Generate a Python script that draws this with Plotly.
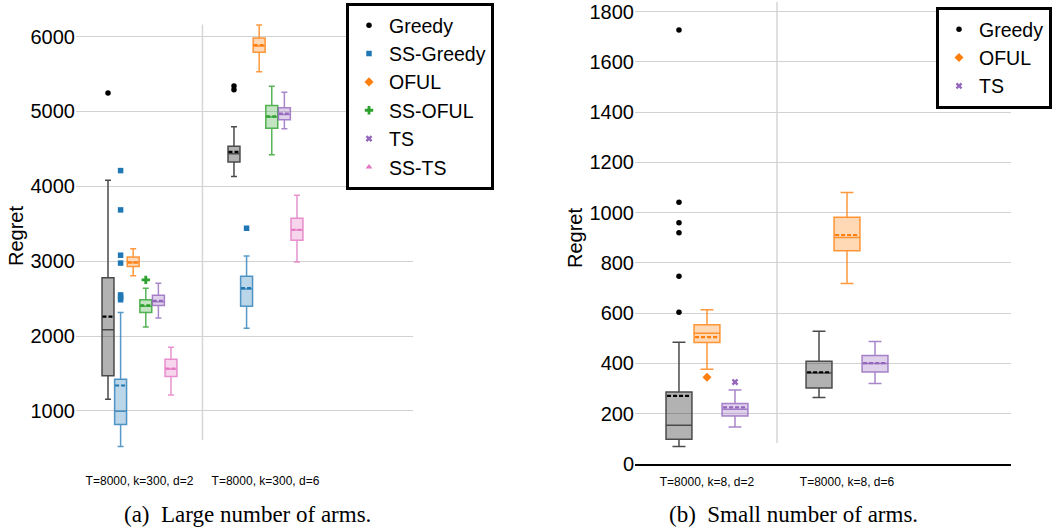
import plotly.graph_objects as go

W, H = 1053, 529

# ---------------- data: (a) large number of arms ----------------
groups_a = ["T=8000, k=300, d=2", "T=8000, k=300, d=6"]
series_a = ["Greedy", "SS-Greedy", "OFUL", "SS-OFUL", "TS", "SS-TS"]

lower_a = {
    "Greedy": [1155, 4130], "SS-Greedy": [525, 2105], "OFUL": [2805, 5530],
    "SS-OFUL": [2120, 4420], "TS": [2240, 4770], "SS-TS": [1215, 2990]}
q1_a = {
    "Greedy": [1470, 4325], "SS-Greedy": [820, 2400], "OFUL": [2930, 5790],
    "SS-OFUL": [2315, 4775], "TS": [2410, 4890], "SS-TS": [1460, 3280]}
median_a = {
    "Greedy": [2085, 4435], "SS-Greedy": [995, 2630], "OFUL": [2980, 5875],
    "SS-OFUL": [2400, 4925], "TS": [2460, 4960], "SS-TS": [1560, 3415]}
mean_a = {
    "Greedy": [2260, 4460], "SS-Greedy": [1340, 2640], "OFUL": [2985, 5885],
    "SS-OFUL": [2410, 4935], "TS": [2470, 4970], "SS-TS": [1565, 3420]}
q3_a = {
    "Greedy": [2780, 4535], "SS-Greedy": [1425, 2800], "OFUL": [3055, 5980],
    "SS-OFUL": [2485, 5080], "TS": [2545, 5050], "SS-TS": [1690, 3575]}
upper_a = {
    "Greedy": [4080, 4795], "SS-Greedy": [2315, 3070], "OFUL": [3165, 6155],
    "SS-OFUL": [2640, 5335], "TS": [2705, 5255], "SS-TS": [1850, 3880]}
outliers_a = {
    "Greedy": [[5245], [5290, 5340]],
    "SS-Greedy": [[4210, 3685, 3080, 2975, 2550, 2515, 2485], [3440]],
    "OFUL": [[], []],
    "SS-OFUL": [[2750], []],
    "TS": [[], []],
    "SS-TS": [[], []]}

# ---------------- data: (b) small number of arms ----------------
groups_b = ["T=8000, k=8, d=2", "T=8000, k=8, d=6"]
series_b = ["Greedy", "OFUL", "TS"]

lower_b = {"Greedy": [70, 265], "OFUL": [377, 718], "TS": [147, 320]}
q1_b = {"Greedy": [98, 302], "OFUL": [483, 848], "TS": [191, 366]}
median_b = {"Greedy": [154, 362], "OFUL": [520, 901], "TS": [218, 400]}
mean_b = {"Greedy": [271, 365], "OFUL": [505, 911], "TS": [225, 401]}
q3_b = {"Greedy": [286, 409], "OFUL": [554, 982], "TS": [241, 432]}
upper_b = {"Greedy": [484, 528], "OFUL": [614, 1080], "TS": [294, 487]}
outliers_b = {
    "Greedy": [[1727, 1041, 960, 920, 747, 604], []],
    "OFUL": [[345], []],
    "TS": [[326], []]}

yticks_a = [1000, 2000, 3000, 4000, 5000, 6000]
yticks_b = [0, 200, 400, 600, 800, 1000, 1200, 1400, 1600, 1800]

# ---------------- styles ----------------
style = {
    "Greedy":    dict(line="#4a4a4a", fill="rgba(0,0,0,0.30)", mk="#000000", sym="circle", size=5.5),
    "SS-Greedy": dict(line="rgba(31,119,180,0.75)", fill="rgba(31,119,180,0.30)", mk="#1f77b4", sym="square", size=5.5),
    "OFUL":      dict(line="rgba(255,127,14,0.8)", fill="rgba(255,127,14,0.30)", mk="#ff7f0e", sym="diamond", size=7),
    "SS-OFUL":   dict(line="rgba(44,160,44,0.8)", fill="rgba(44,160,44,0.28)", mk="#2ca02c", sym="cross", size=7),
    "TS":        dict(line="rgba(148,103,189,0.8)", fill="rgba(148,103,189,0.30)", mk="#9467bd", sym="x", size=6),
    "SS-TS":     dict(line="rgba(227,119,194,0.8)", fill="rgba(227,119,194,0.30)", mk="#e377c2", sym="triangle-up", size=6),
}

FONT = "Liberation Sans, Arial, Helvetica, sans-serif"
SERIF = "Liberation Serif, Times New Roman, serif"

fig = go.Figure()


def add_panel(series, groups, lo, q1, med, mn, q3, up, outl, step, bw, xa, ya, leg):
    n = len(series)
    centers = list(range(len(groups)))
    for i, s in enumerate(series):
        st = style[s]
        off = (i - (n - 1) / 2) * step
        pos = [c + off for c in centers]
        fig.add_trace(go.Box(
            x=pos, q1=q1[s], median=med[s], q3=q3[s],
            lowerfence=lo[s], upperfence=up[s],
            boxmean=False, width=bw, whiskerwidth=0.5,
            line=dict(color=st["line"], width=1.5), fillcolor=st["fill"],
            boxpoints=False, showlegend=False, name=s,
            xaxis=xa, yaxis=ya, hoverinfo="skip"))
        # dashed mean line across each box
        mx, my = [], []
        for g, m in enumerate(mn[s]):
            mx += [pos[g] - bw / 2 * 0.92, pos[g] + bw / 2 * 0.92, None]
            my += [m, m, None]
        fig.add_trace(go.Scatter(
            x=mx, y=my, mode="lines", showlegend=False, hoverinfo="skip",
            line=dict(color=st["mk"], width=2.2, dash="4px,2px"),
            xaxis=xa, yaxis=ya))
        ox, oy = [], []
        for g, vals in enumerate(outl[s]):
            for v in vals:
                ox.append(pos[g])
                oy.append(v)
        if not ox:
            ox, oy = [None], [None]
        fig.add_trace(go.Scatter(
            x=ox, y=oy, mode="markers", name=s,
            marker=dict(symbol=st["sym"], color=st["mk"], size=st["size"],
                        line=dict(width=0)),
            xaxis=xa, yaxis=ya, legend=leg, showlegend=True))


add_panel(series_a, groups_a, lower_a, q1_a, median_a, mean_a, q3_a, upper_a,
          outliers_a, 0.1, 0.095, "x", "y", "legend")
add_panel(series_b, groups_b, lower_b, q1_b, median_b, mean_b, q3_b, upper_b,
          outliers_b, 0.2, 0.185, "x2", "y2", "legend2")

ydom = [1 - 464 / H, 1 - 2 / H]
grid = "#d2d2d2"

fig.update_layout(
    width=W, height=H,
    margin=dict(l=0, r=0, t=0, b=0),
    paper_bgcolor="white", plot_bgcolor="white",
    font=dict(family=FONT, color="black"),
    xaxis=dict(domain=[76 / W, 413 / W], range=[-0.504, 2.171],
               tickvals=[0, 1], ticktext=groups_a, showgrid=False,
               zeroline=False, showline=False, ticks="", ticklabelstandoff=8,
               tickfont=dict(size=12, color="black"), automargin=False),
    yaxis=dict(domain=ydom, range=[292, 6461], tickvals=yticks_a,
               showgrid=True, gridcolor=grid, gridwidth=1, zeroline=False,
               showline=False, ticks="", tickfont=dict(size=20, color="black"),
               automargin=False),
    xaxis2=dict(domain=[635 / W, 1011 / W], range=[-0.514, 2.171],
                tickvals=[0, 1], ticktext=groups_b, showgrid=False,
                zeroline=False, showline=True, linecolor="black", linewidth=2,
                ticks="", ticklabelstandoff=6, tickfont=dict(size=12, color="black"),
                anchor="y2", automargin=False),
    yaxis2=dict(domain=ydom, range=[0, 1838], tickvals=yticks_b,
                showgrid=True, gridcolor=grid, gridwidth=1, zeroline=False,
                showline=False, ticks="", tickfont=dict(size=20, color="black"),
                anchor="x2", automargin=False),
    legend=dict(x=346 / W, y=1 - 3 / H, xanchor="left", yanchor="top",
                bgcolor="white", bordercolor="black", borderwidth=3,
                font=dict(size=19.5, family=FONT, color="black"),
                tracegroupgap=0, itemwidth=30),
    legend2=dict(x=936 / W, y=1 - 7 / H, xanchor="left", yanchor="top",
                 bgcolor="white", bordercolor="black", borderwidth=3,
                 font=dict(size=19.5, family=FONT, color="black"),
                 tracegroupgap=0, itemwidth=30),
    showlegend=True,
)

# vertical separators between the two settings of each panel
fig.add_shape(type="line", xref="x", yref="y", x0=0.5, x1=0.5, y0=612, y1=6160,
              line=dict(color="#d6d6d6", width=1.5), layer="below")
fig.add_shape(type="line", xref="x2", yref="y2", x0=0.5, x1=0.5, y0=84, y1=1838,
              line=dict(color="#d6d6d6", width=1.5), layer="below")

# axis titles and captions
ann_font = dict(size=20, family=FONT, color="black")
fig.add_annotation(text="Regret", xref="paper", yref="paper", x=16 / W, y=1 - 236 / H,
                   xanchor="center", yanchor="middle", textangle=-90,
                   showarrow=False, font=ann_font)
fig.add_annotation(text="Regret", xref="paper", yref="paper", x=575 / W, y=1 - 238 / H,
                   xanchor="center", yanchor="middle", textangle=-90,
                   showarrow=False, font=ann_font)
cap_font = dict(size=23, family=SERIF, color="black")
fig.add_annotation(text="(a)  Large number of arms.", xref="paper", yref="paper",
                   x=247 / W, y=1 - 514 / H, xanchor="center", yanchor="middle",
                   showarrow=False, font=cap_font)
fig.add_annotation(text="(b)  Small number of arms.", xref="paper", yref="paper",
                   x=793 / W, y=1 - 514 / H, xanchor="center", yanchor="middle",
                   showarrow=False, font=cap_font)

fig.write_html(
    "out.html",
    config={"displayModeBar": False},
    post_script="document.body.style.margin='0px';document.body.style.overflow='hidden';",
)
